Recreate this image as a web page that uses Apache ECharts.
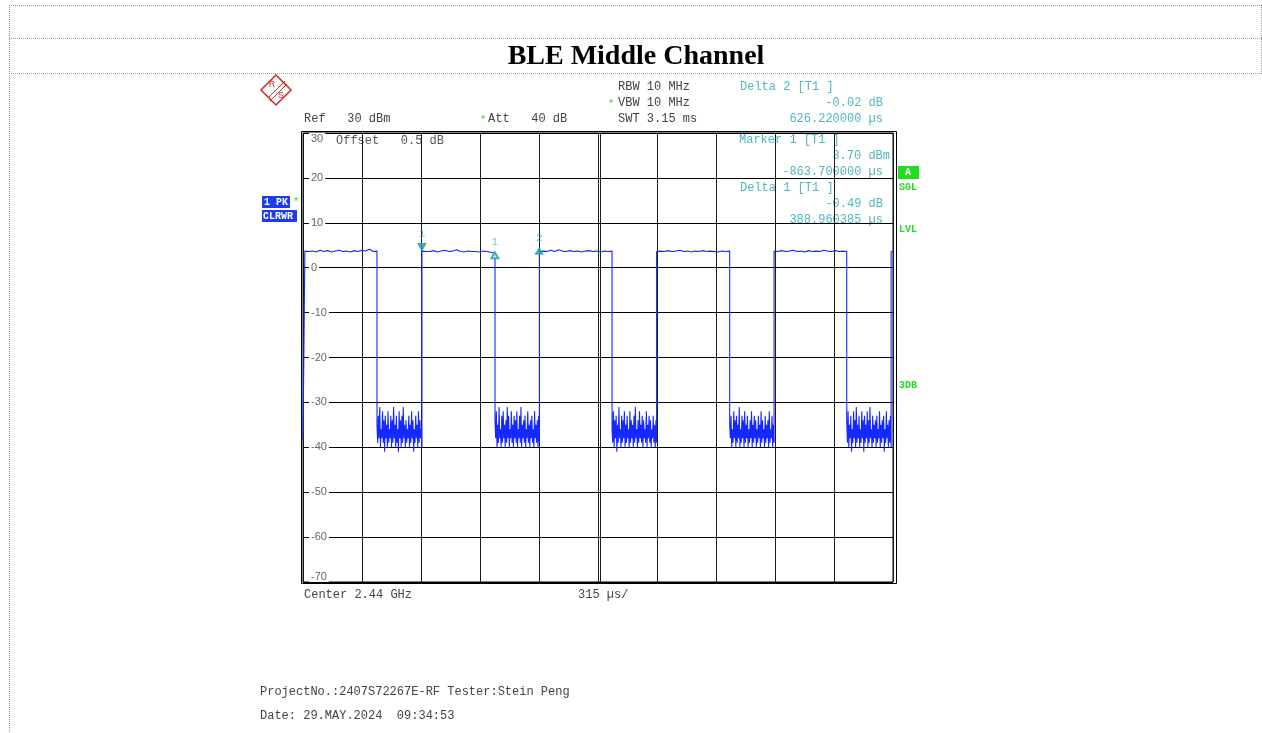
<!DOCTYPE html>
<html>
<head>
<meta charset="utf-8">
<title>BLE Middle Channel</title>
<script src="https://cdn.jsdelivr.net/npm/echarts@6/dist/echarts.min.js"></script>
<style>
  html, body { margin: 0; padding: 0; background: #fff; }
  #chart { width: 1262px; height: 733px; }
</style>
</head>
<body>
<div id="chart"></div>
<script>
// sweep settings
const sweepUs = 3150;
const divUs = 315;
const refLevel = 30;
const bottomLevel = -70;
const levelStep = 10;

// transition times of the trace (us)
const edgeTimes = [0, 10, 395, 635, 1025, 1262, 1650, 1888, 2278, 2515, 2903, 3140, 3150];

// levels between edges (dBm)
const lead = [-38.5, -38.5];
const burst1 = [3.7, 3.6, 3.7, 3.5, 3.9, 3.6, 3.8, 3.5, 3.7, 3.9, 3.6, 3.7, 3.5, 3.8, 3.6, 3.9, 3.7, 4.1, 3.6, 3.7];
const noise1 = [-35, -39, -33, -38, -31, -40, -36, -38, -32, -39, -34, -41, -33, -38, -35, -40, -32, -39, -36, -38,
  -33, -40, -34, -39, -31, -38, -35, -40, -33, -39, -36, -41, -32, -38, -34, -40, -33, -39, -31, -38,
  -35, -40, -34, -39, -36, -38, -33, -40, -35, -39, -32, -38, -34, -41, -36, -39, -33, -38, -35, -40,
  -32, -39, -34, -38, -36, -40];
const burst2 = [3.7, 3.6, 3.6, 3.8, 3.5, 3.7, 3.9, 3.6, 3.7, 4.0, 3.6, 3.5, 3.7, 3.6, 3.6, 3.5, 3.7, 3.6, 3.4, 3.2];
const noise2 = [-34, -38, -32, -40, -35, -39, -31, -38, -36, -40, -33, -39, -32, -38, -35, -40, -34, -39, -31, -38,
  -33, -40, -36, -38, -32, -39, -35, -40, -33, -38, -34, -39, -32, -40, -36, -38, -33, -39, -31, -40,
  -35, -38, -34, -39, -33, -40, -36, -38, -32, -39, -35, -40, -34, -38, -33, -39, -36, -40, -32, -38,
  -35, -39, -34, -40, -33, -39];
const burst3 = [3.6, 3.7, 3.6, 3.9, 3.6, 4.0, 3.7, 3.6, 3.8, 3.6, 3.7, 3.5, 3.7, 3.8, 3.6, 3.7, 3.5, 3.7, 3.6, 3.7];
const noise3 = [-36, -39, -32, -40, -34, -38, -33, -41, -35, -39, -31, -38, -36, -40, -33, -39, -34, -38, -32, -40,
  -35, -39, -33, -38, -36, -40, -32, -39, -34, -38, -35, -40, -33, -39, -31, -38, -36, -40, -34, -39,
  -32, -38, -35, -39, -33, -40, -34, -38, -36, -39, -32, -40, -35, -38, -33, -39, -34, -40, -36, -38,
  -33, -39, -35, -40, -34, -39];
const burst4 = [3.6, 3.7, 3.6, 3.8, 3.6, 3.7, 3.9, 3.6, 3.7, 3.5, 3.7, 3.6, 3.8, 3.6, 3.7, 3.6, 3.5, 3.7, 3.6, 3.7];
const noise4 = [-35, -38, -33, -40, -36, -39, -32, -38, -34, -40, -33, -39, -35, -38, -31, -40, -36, -39, -33, -38,
  -34, -40, -32, -39, -35, -38, -33, -40, -36, -39, -34, -38, -32, -40, -35, -39, -33, -38, -34, -40,
  -36, -39, -33, -38, -35, -40, -32, -39, -34, -38, -36, -40, -33, -39, -35, -38, -34, -40, -32, -39,
  -36, -38, -33, -40, -35, -39];
const burst5 = [3.7, 3.6, 3.8, 3.6, 3.7, 3.9, 3.6, 3.7, 3.5, 3.8, 3.6, 3.7, 3.6, 3.9, 3.7, 3.6, 3.8, 3.6, 3.7, 3.6];
const noise5 = [-34, -39, -32, -40, -35, -38, -33, -41, -36, -39, -32, -38, -34, -40, -31, -39, -35, -38, -33, -40,
  -36, -39, -32, -38, -34, -41, -33, -39, -35, -38, -32, -40, -34, -39, -31, -38, -36, -40, -33, -39,
  -35, -38, -34, -40, -33, -39, -36, -38, -32, -40, -35, -39, -34, -38, -33, -41, -36, -39, -32, -38,
  -35, -40, -34, -39, -33, -40];
const tail = [3.6, 3.7];

const segments = [lead, burst1, noise1, burst2, noise2, burst3, noise3, burst4, noise4, burst5, noise5, tail];

// markers
const markerNames = ['1', '1', '2'];
const markerTimes = [635, 1024, 1261];
const markerLevels = [3.70, 3.21, 3.68];

// build trace: each segment spread between its two edges
function buildTrace() {
  let pts = [];
  for (let i = 0; i < segments.length; i++) {
    let vals = segments[i];
    let t0 = edgeTimes[i], t1 = edgeTimes[i + 1];
    for (let j = 0; j < vals.length; j++) {
      let t = vals.length > 1 ? t0 + (t1 - t0) * j / (vals.length - 1) : t0;
      pts.push([t, vals[j]]);
    }
  }
  return pts;
}

const mono = '"Liberation Mono", "Courier New", monospace';
const teal = '#4db6bf';
const green = '#2bd62b';

function txt(x, y, text, opt) {
  opt = opt || {};
  return {
    type: 'text',
    silent: true,
    style: {
      x: x, y: y, text: text,
      font: (opt.bold ? 'bold ' : '') + (opt.size || 12) + 'px ' + (opt.family || mono),
      fill: opt.color || '#444',
      align: opt.align || 'left',
      verticalAlign: 'middle'
    }
  };
}
function hline(x1, x2, y, dash) {
  return { type: 'line', silent: true, shape: { x1: x1, y1: y, x2: x2, y2: y },
    style: { stroke: '#9a9a9a', lineWidth: 1, lineDash: dash ? [1, 1] : null } };
}
function vline(x, y1, y2) {
  return { type: 'line', silent: true, shape: { x1: x, y1: y1, x2: x, y2: y2 },
    style: { stroke: '#9a9a9a', lineWidth: 1, lineDash: [1, 1] } };
}
function box(x, y, w, h, color, text, tw) {
  return [
    { type: 'rect', silent: true, shape: { x: x, y: y, width: w, height: h }, style: { fill: color } },
    txt(tw || x + 2, y + h / 2, text, { color: '#fff', bold: true, size: 10 })
  ];
}

let graphics = [
  // page frame
  hline(9, 1262, 5.5, true),
  hline(9, 1262, 38.5, true),
  hline(9, 1262, 73.5, true),
  vline(9.5, 5, 733),
  vline(1261.5, 5, 73),
  txt(636, 57, 'BLE Middle Channel', { family: '"Liberation Serif", "Times New Roman", serif', bold: true, size: 28, color: '#000', align: 'center' }),
  // R&S logo
  { type: 'polygon', silent: true, shape: { points: [[276, 75], [291, 90], [276, 105], [261, 90]] },
    style: { fill: 'none', stroke: '#cc2a2a', lineWidth: 1.5 } },
  { type: 'line', silent: true, shape: { x1: 285, y1: 81, x2: 268, y2: 98 }, style: { stroke: '#cc2a2a', lineWidth: 1 } },
  { type: 'line', silent: true, shape: { x1: 287, y1: 84, x2: 270, y2: 101 }, style: { stroke: '#cc2a2a', lineWidth: 1 } },
  txt(272, 85, 'R', { family: '"Liberation Sans", Arial, sans-serif', size: 9, color: '#cc2a2a', align: 'center' }),
  txt(281, 96, 'S', { family: '"Liberation Sans", Arial, sans-serif', size: 9, color: '#cc2a2a', align: 'center' }),
  // settings
  txt(618, 87, 'RBW 10 MHz'),
  txt(611, 104, '*', { color: green, size: 11, align: 'center' }),
  txt(618, 103, 'VBW 10 MHz'),
  txt(618, 119, 'SWT 3.15 ms'),
  txt(304, 119, 'Ref   30 dBm'),
  txt(483, 120, '*', { color: green, size: 11, align: 'center' }),
  txt(488, 119, 'Att   40 dB'),
  txt(336, 141, 'Offset   0.5 dB', { color: '#555' }),
  // marker info
  txt(740, 87, 'Delta 2 [T1 ]', { color: teal }),
  txt(883, 103, '-0.02 dB', { color: teal, align: 'right' }),
  txt(883, 119, '626.220000 \u00b5s', { color: teal, align: 'right' }),
  txt(739, 140, 'Marker 1 [T1 ]', { color: teal }),
  txt(890, 156, '3.70 dBm', { color: teal, align: 'right' }),
  txt(883, 172, '-863.700000 \u00b5s', { color: teal, align: 'right' }),
  txt(740, 188, 'Delta 1 [T1 ]', { color: teal }),
  txt(883, 204, '-0.49 dB', { color: teal, align: 'right' }),
  txt(883, 220, '388.960385 \u00b5s', { color: teal, align: 'right' }),
  // trace status, left
  txt(296, 202, '*', { color: green, size: 11, align: 'center' }),
  // status, right
  txt(899, 187, 'SGL', { color: green, bold: true, size: 10 }),
  txt(899, 229, 'LVL', { color: green, bold: true, size: 10 }),
  txt(899, 385, '3DB', { color: green, bold: true, size: 10 }),
  // outer frame (double line)
  { type: 'rect', silent: true, z: 10, shape: { x: 301.5, y: 131.5, width: 595, height: 452 },
    style: { fill: 'none', stroke: '#000', lineWidth: 1 } },
  // footer
  txt(304, 595, 'Center 2.44 GHz'),
  txt(578, 595, '315 \u00b5s/'),
  txt(260, 692, 'ProjectNo.:2407S72267E-RF Tester:Stein Peng'),
  txt(260, 716, 'Date: 29.MAY.2024  09:34:53')
];
graphics = graphics.concat(box(262, 196, 28, 12, '#1d3cf2', '1 PK', 264));
graphics = graphics.concat(box(262, 210, 35, 12, '#1d3cf2', 'CLRWR', 263));
graphics = graphics.concat(box(898, 166, 21, 13, '#22dd22', 'A', 905));

let chart = echarts.init(document.getElementById('chart'), null, { renderer: 'canvas' });
chart.setOption({
  animation: false,
  backgroundColor: '#fff',
  grid: {
    left: 303, top: 133, width: 590, height: 449,
    show: true, borderColor: '#000', borderWidth: 1,
    containLabel: false, outerBoundsMode: 'none'
  },
  xAxis: {
    type: 'value', min: 0, max: sweepUs, interval: divUs,
    axisLine: { show: false }, axisTick: { show: false }, axisLabel: { show: false },
    splitLine: { show: true, lineStyle: { color: '#1a1a1a', width: 1 } }
  },
  yAxis: {
    type: 'value', min: bottomLevel, max: refLevel, interval: levelStep,
    axisLine: { show: false }, axisTick: { show: false },
    axisLabel: {
      inside: true, margin: 6,
      color: '#666', fontSize: 11, fontFamily: '"Liberation Sans", Arial, sans-serif',
      backgroundColor: '#fff', padding: [0, 2],
      verticalAlignMinLabel: 'bottom', verticalAlignMaxLabel: 'top'
    },
    splitLine: { show: true, lineStyle: { color: '#000', width: 1 } }
  },
  series: [
    {
      type: 'line',
      data: buildTrace(),
      showSymbol: false,
      lineStyle: { color: '#1428ff', width: 1.1 },
      z: 3,
      markLine: {
        silent: true, symbol: 'none', label: { show: false },
        lineStyle: { color: '#1a1a1a', width: 1, type: 'solid' },
        data: [{ xAxis: sweepUs / 2 + 10 }]
      }
    },
    {
      type: 'scatter',
      z: 5,
      data: markerTimes.map(function (t, i) {
        let sym = i === 0 ? { symbol: 'triangle', symbolRotate: 180, symbolOffset: [0, -4], symbolSize: [8, 7] }
          : i === 1 ? { symbol: 'emptyTriangle', symbolOffset: [0, 2], symbolSize: [7, 6] }
          : { symbol: 'triangle', symbolOffset: [0, 0], symbolSize: [8, 6] };
        return Object.assign({ value: [t, markerLevels[i]], name: markerNames[i] }, sym);
      }),
      itemStyle: { color: '#1f9da3', borderColor: '#1f9da3' },
      label: {
        show: true, position: 'top', distance: 4,
        formatter: function (p) { return p.name; },
        color: teal, fontSize: 11, fontFamily: mono
      }
    }
  ],
  graphic: graphics
});
</script>
</body>
</html>
